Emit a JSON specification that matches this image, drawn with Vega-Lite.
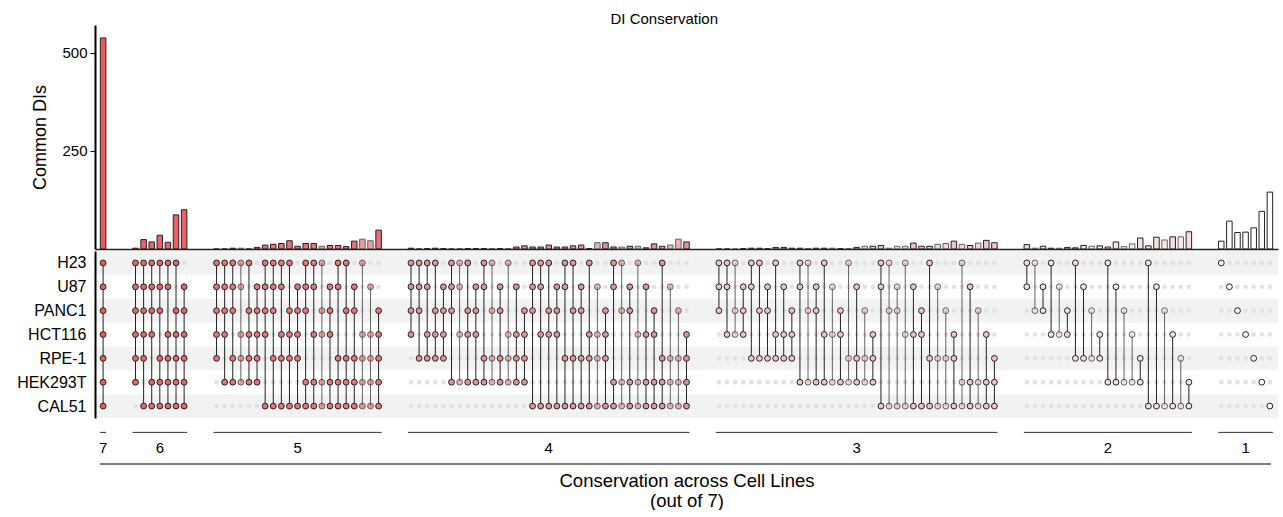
{
"$schema": "https://vega.github.io/schema/vega-lite/v6.json",
"padding": {"left": 16, "top": 12, "right": 3, "bottom": 0},
"config": {"font": "Liberation Sans", "view": {"stroke": null}, "axis": {"labelFont": "Liberation Sans", "titleFont": "Liberation Sans", "labelColor": "#000", "titleColor": "#000", "titleFontWeight": "normal", "grid": false}},
"title": {"text": "DI Conservation", "fontSize": 15, "fontWeight": "normal", "anchor": "middle", "offset": 4, "color": "#000", "dx": 11, "dy": 6},
"datasets": {
"lines": [{"line":"H23","rank":1},{"line":"U87","rank":2},{"line":"PANC1","rank":3},{"line":"HCT116","rank":4},{"line":"RPE-1","rank":5},{"line":"HEK293T","rank":6},{"line":"CAL51","rank":7}],
"groups": [
{"deg":7,"first":"m1111111","mid":"m1111111","last":"m1111111"},
{"deg":6,"first":"m1111110","mid":"m1110111","last":"m0111111"},
{"deg":5,"first":"m1111100","mid":"m0111101","last":"m0011111"},
{"deg":4,"first":"m1111000","mid":"m1011001","last":"m0001111"},
{"deg":3,"first":"m1110000","mid":"m0100110","last":"m0000111"},
{"deg":2,"first":"m1100000","mid":"m1000010","last":"m0000011"},
{"deg":1,"first":"m1000000","mid":"m0001000","last":"m0000001"}],
"combos": [
{"id":"m1111111","deg":7,"n":538,"H23":1,"U87":1,"PANC1":1,"HCT116":1,"RPE-1":1,"HEK293T":1,"CAL51":1,"faint":0},
{"id":"m1111110","deg":6,"n":2,"H23":1,"U87":1,"PANC1":1,"HCT116":1,"RPE-1":1,"HEK293T":1,"CAL51":0,"faint":0},
{"id":"m1111101","deg":6,"n":24,"H23":1,"U87":1,"PANC1":1,"HCT116":1,"RPE-1":1,"HEK293T":0,"CAL51":1,"faint":0},
{"id":"m1111011","deg":6,"n":18,"H23":1,"U87":1,"PANC1":1,"HCT116":1,"RPE-1":0,"HEK293T":1,"CAL51":1,"faint":0},
{"id":"m1110111","deg":6,"n":35,"H23":1,"U87":1,"PANC1":1,"HCT116":0,"RPE-1":1,"HEK293T":1,"CAL51":1,"faint":0},
{"id":"m1101111","deg":6,"n":17,"H23":1,"U87":1,"PANC1":0,"HCT116":1,"RPE-1":1,"HEK293T":1,"CAL51":1,"faint":0},
{"id":"m1011111","deg":6,"n":87,"H23":1,"U87":0,"PANC1":1,"HCT116":1,"RPE-1":1,"HEK293T":1,"CAL51":1,"faint":0},
{"id":"m0111111","deg":6,"n":100,"H23":0,"U87":1,"PANC1":1,"HCT116":1,"RPE-1":1,"HEK293T":1,"CAL51":1,"faint":0},
{"id":"m1111100","deg":5,"n":0,"H23":1,"U87":1,"PANC1":1,"HCT116":1,"RPE-1":1,"HEK293T":0,"CAL51":0,"faint":0},
{"id":"m1111010","deg":5,"n":0,"H23":1,"U87":1,"PANC1":1,"HCT116":1,"RPE-1":0,"HEK293T":1,"CAL51":0,"faint":0},
{"id":"m1110110","deg":5,"n":2,"H23":1,"U87":1,"PANC1":1,"HCT116":0,"RPE-1":1,"HEK293T":1,"CAL51":0,"faint":0},
{"id":"m1101110","deg":5,"n":2,"H23":1,"U87":1,"PANC1":0,"HCT116":1,"RPE-1":1,"HEK293T":1,"CAL51":0,"faint":1},
{"id":"m1011110","deg":5,"n":0,"H23":1,"U87":0,"PANC1":1,"HCT116":1,"RPE-1":1,"HEK293T":1,"CAL51":0,"faint":0},
{"id":"m0111110","deg":5,"n":4,"H23":0,"U87":1,"PANC1":1,"HCT116":1,"RPE-1":1,"HEK293T":1,"CAL51":0,"faint":0},
{"id":"m1111001","deg":5,"n":10,"H23":1,"U87":1,"PANC1":1,"HCT116":1,"RPE-1":0,"HEK293T":0,"CAL51":1,"faint":0},
{"id":"m1110101","deg":5,"n":12,"H23":1,"U87":1,"PANC1":1,"HCT116":0,"RPE-1":1,"HEK293T":0,"CAL51":1,"faint":0},
{"id":"m1101101","deg":5,"n":14,"H23":1,"U87":1,"PANC1":0,"HCT116":1,"RPE-1":1,"HEK293T":0,"CAL51":1,"faint":0},
{"id":"m1011101","deg":5,"n":21,"H23":1,"U87":0,"PANC1":1,"HCT116":1,"RPE-1":1,"HEK293T":0,"CAL51":1,"faint":0},
{"id":"m0111101","deg":5,"n":7,"H23":0,"U87":1,"PANC1":1,"HCT116":1,"RPE-1":1,"HEK293T":0,"CAL51":1,"faint":0},
{"id":"m1110011","deg":5,"n":14,"H23":1,"U87":1,"PANC1":1,"HCT116":0,"RPE-1":0,"HEK293T":1,"CAL51":1,"faint":0},
{"id":"m1101011","deg":5,"n":14,"H23":1,"U87":1,"PANC1":0,"HCT116":1,"RPE-1":0,"HEK293T":1,"CAL51":1,"faint":0},
{"id":"m1011011","deg":5,"n":7,"H23":1,"U87":0,"PANC1":1,"HCT116":1,"RPE-1":0,"HEK293T":1,"CAL51":1,"faint":1},
{"id":"m0111011","deg":5,"n":9,"H23":0,"U87":1,"PANC1":1,"HCT116":1,"RPE-1":0,"HEK293T":1,"CAL51":1,"faint":0},
{"id":"m1100111","deg":5,"n":9,"H23":1,"U87":1,"PANC1":0,"HCT116":0,"RPE-1":1,"HEK293T":1,"CAL51":1,"faint":0},
{"id":"m1010111","deg":5,"n":6,"H23":1,"U87":0,"PANC1":1,"HCT116":0,"RPE-1":1,"HEK293T":1,"CAL51":1,"faint":0},
{"id":"m0110111","deg":5,"n":20,"H23":0,"U87":1,"PANC1":1,"HCT116":0,"RPE-1":1,"HEK293T":1,"CAL51":1,"faint":0},
{"id":"m1001111","deg":5,"n":25,"H23":1,"U87":0,"PANC1":0,"HCT116":1,"RPE-1":1,"HEK293T":1,"CAL51":1,"faint":1},
{"id":"m0101111","deg":5,"n":21,"H23":0,"U87":1,"PANC1":0,"HCT116":1,"RPE-1":1,"HEK293T":1,"CAL51":1,"faint":1},
{"id":"m0011111","deg":5,"n":48,"H23":0,"U87":0,"PANC1":1,"HCT116":1,"RPE-1":1,"HEK293T":1,"CAL51":1,"faint":0},
{"id":"m1111000","deg":4,"n":2,"H23":1,"U87":1,"PANC1":1,"HCT116":1,"RPE-1":0,"HEK293T":0,"CAL51":0,"faint":0},
{"id":"m1110100","deg":4,"n":0,"H23":1,"U87":1,"PANC1":1,"HCT116":0,"RPE-1":1,"HEK293T":0,"CAL51":0,"faint":0},
{"id":"m1101100","deg":4,"n":1,"H23":1,"U87":1,"PANC1":0,"HCT116":1,"RPE-1":1,"HEK293T":0,"CAL51":0,"faint":0},
{"id":"m1011100","deg":4,"n":2,"H23":1,"U87":0,"PANC1":1,"HCT116":1,"RPE-1":1,"HEK293T":0,"CAL51":0,"faint":0},
{"id":"m0111100","deg":4,"n":1,"H23":0,"U87":1,"PANC1":1,"HCT116":1,"RPE-1":1,"HEK293T":0,"CAL51":0,"faint":0},
{"id":"m1110010","deg":4,"n":0,"H23":1,"U87":1,"PANC1":1,"HCT116":0,"RPE-1":0,"HEK293T":1,"CAL51":0,"faint":0},
{"id":"m1101010","deg":4,"n":1,"H23":1,"U87":1,"PANC1":0,"HCT116":1,"RPE-1":0,"HEK293T":1,"CAL51":0,"faint":1},
{"id":"m1011010","deg":4,"n":1,"H23":1,"U87":0,"PANC1":1,"HCT116":1,"RPE-1":0,"HEK293T":1,"CAL51":0,"faint":0},
{"id":"m0111010","deg":4,"n":1,"H23":0,"U87":1,"PANC1":1,"HCT116":1,"RPE-1":0,"HEK293T":1,"CAL51":0,"faint":0},
{"id":"m1100110","deg":4,"n":1,"H23":1,"U87":1,"PANC1":0,"HCT116":0,"RPE-1":1,"HEK293T":1,"CAL51":0,"faint":0},
{"id":"m1010110","deg":4,"n":1,"H23":1,"U87":0,"PANC1":1,"HCT116":0,"RPE-1":1,"HEK293T":1,"CAL51":0,"faint":1},
{"id":"m0110110","deg":4,"n":1,"H23":0,"U87":1,"PANC1":1,"HCT116":0,"RPE-1":1,"HEK293T":1,"CAL51":0,"faint":0},
{"id":"m1001110","deg":4,"n":1,"H23":1,"U87":0,"PANC1":0,"HCT116":1,"RPE-1":1,"HEK293T":1,"CAL51":0,"faint":1},
{"id":"m0101110","deg":4,"n":5,"H23":0,"U87":1,"PANC1":0,"HCT116":1,"RPE-1":1,"HEK293T":1,"CAL51":0,"faint":0},
{"id":"m0011110","deg":4,"n":8,"H23":0,"U87":0,"PANC1":1,"HCT116":1,"RPE-1":1,"HEK293T":1,"CAL51":0,"faint":0},
{"id":"m1110001","deg":4,"n":5,"H23":1,"U87":1,"PANC1":1,"HCT116":0,"RPE-1":0,"HEK293T":0,"CAL51":1,"faint":0},
{"id":"m1101001","deg":4,"n":5,"H23":1,"U87":1,"PANC1":0,"HCT116":1,"RPE-1":0,"HEK293T":0,"CAL51":1,"faint":0},
{"id":"m1011001","deg":4,"n":10,"H23":1,"U87":0,"PANC1":1,"HCT116":1,"RPE-1":0,"HEK293T":0,"CAL51":1,"faint":0},
{"id":"m0111001","deg":4,"n":5,"H23":0,"U87":1,"PANC1":1,"HCT116":1,"RPE-1":0,"HEK293T":0,"CAL51":1,"faint":0},
{"id":"m1100101","deg":4,"n":5,"H23":1,"U87":1,"PANC1":0,"HCT116":0,"RPE-1":1,"HEK293T":0,"CAL51":1,"faint":0},
{"id":"m1010101","deg":4,"n":8,"H23":1,"U87":0,"PANC1":1,"HCT116":0,"RPE-1":1,"HEK293T":0,"CAL51":1,"faint":0},
{"id":"m0110101","deg":4,"n":10,"H23":0,"U87":1,"PANC1":1,"HCT116":0,"RPE-1":1,"HEK293T":0,"CAL51":1,"faint":0},
{"id":"m1001101","deg":4,"n":1,"H23":1,"U87":0,"PANC1":0,"HCT116":1,"RPE-1":1,"HEK293T":0,"CAL51":1,"faint":0},
{"id":"m0101101","deg":4,"n":16,"H23":0,"U87":1,"PANC1":0,"HCT116":1,"RPE-1":1,"HEK293T":0,"CAL51":1,"faint":1},
{"id":"m0011101","deg":4,"n":16,"H23":0,"U87":0,"PANC1":1,"HCT116":1,"RPE-1":1,"HEK293T":0,"CAL51":1,"faint":0},
{"id":"m1100011","deg":4,"n":5,"H23":1,"U87":1,"PANC1":0,"HCT116":0,"RPE-1":0,"HEK293T":1,"CAL51":1,"faint":0},
{"id":"m1010011","deg":4,"n":5,"H23":1,"U87":0,"PANC1":1,"HCT116":0,"RPE-1":0,"HEK293T":1,"CAL51":1,"faint":1},
{"id":"m0110011","deg":4,"n":7,"H23":0,"U87":1,"PANC1":1,"HCT116":0,"RPE-1":0,"HEK293T":1,"CAL51":1,"faint":0},
{"id":"m1001011","deg":4,"n":7,"H23":1,"U87":0,"PANC1":0,"HCT116":1,"RPE-1":0,"HEK293T":1,"CAL51":1,"faint":1},
{"id":"m0101011","deg":4,"n":3,"H23":0,"U87":1,"PANC1":0,"HCT116":1,"RPE-1":0,"HEK293T":1,"CAL51":1,"faint":0},
{"id":"m0011011","deg":4,"n":13,"H23":0,"U87":0,"PANC1":1,"HCT116":1,"RPE-1":0,"HEK293T":1,"CAL51":1,"faint":0},
{"id":"m1000111","deg":4,"n":7,"H23":1,"U87":0,"PANC1":0,"HCT116":0,"RPE-1":1,"HEK293T":1,"CAL51":1,"faint":0},
{"id":"m0100111","deg":4,"n":10,"H23":0,"U87":1,"PANC1":0,"HCT116":0,"RPE-1":1,"HEK293T":1,"CAL51":1,"faint":1},
{"id":"m0010111","deg":4,"n":25,"H23":0,"U87":0,"PANC1":1,"HCT116":0,"RPE-1":1,"HEK293T":1,"CAL51":1,"faint":1},
{"id":"m0001111","deg":4,"n":18,"H23":0,"U87":0,"PANC1":0,"HCT116":1,"RPE-1":1,"HEK293T":1,"CAL51":1,"faint":0},
{"id":"m1110000","deg":3,"n":0,"H23":1,"U87":1,"PANC1":1,"HCT116":0,"RPE-1":0,"HEK293T":0,"CAL51":0,"faint":0},
{"id":"m1101000","deg":3,"n":0,"H23":1,"U87":1,"PANC1":0,"HCT116":1,"RPE-1":0,"HEK293T":0,"CAL51":0,"faint":0},
{"id":"m1011000","deg":3,"n":0,"H23":1,"U87":0,"PANC1":1,"HCT116":1,"RPE-1":0,"HEK293T":0,"CAL51":0,"faint":1},
{"id":"m0111000","deg":3,"n":1,"H23":0,"U87":1,"PANC1":1,"HCT116":1,"RPE-1":0,"HEK293T":0,"CAL51":0,"faint":0},
{"id":"m1100100","deg":3,"n":2,"H23":1,"U87":1,"PANC1":0,"HCT116":0,"RPE-1":1,"HEK293T":0,"CAL51":0,"faint":0},
{"id":"m1010100","deg":3,"n":2,"H23":1,"U87":0,"PANC1":1,"HCT116":0,"RPE-1":1,"HEK293T":0,"CAL51":0,"faint":0},
{"id":"m0110100","deg":3,"n":1,"H23":0,"U87":1,"PANC1":1,"HCT116":0,"RPE-1":1,"HEK293T":0,"CAL51":0,"faint":0},
{"id":"m1001100","deg":3,"n":4,"H23":1,"U87":0,"PANC1":0,"HCT116":1,"RPE-1":1,"HEK293T":0,"CAL51":0,"faint":0},
{"id":"m0101100","deg":3,"n":4,"H23":0,"U87":1,"PANC1":0,"HCT116":1,"RPE-1":1,"HEK293T":0,"CAL51":0,"faint":0},
{"id":"m0011100","deg":3,"n":2,"H23":0,"U87":0,"PANC1":1,"HCT116":1,"RPE-1":1,"HEK293T":0,"CAL51":0,"faint":0},
{"id":"m1100010","deg":3,"n":2,"H23":1,"U87":1,"PANC1":0,"HCT116":0,"RPE-1":0,"HEK293T":1,"CAL51":0,"faint":0},
{"id":"m1010010","deg":3,"n":1,"H23":1,"U87":0,"PANC1":1,"HCT116":0,"RPE-1":0,"HEK293T":1,"CAL51":0,"faint":1},
{"id":"m0110010","deg":3,"n":2,"H23":0,"U87":1,"PANC1":1,"HCT116":0,"RPE-1":0,"HEK293T":1,"CAL51":0,"faint":0},
{"id":"m1001010","deg":3,"n":2,"H23":1,"U87":0,"PANC1":0,"HCT116":1,"RPE-1":0,"HEK293T":1,"CAL51":0,"faint":0},
{"id":"m0101010","deg":3,"n":2,"H23":0,"U87":1,"PANC1":0,"HCT116":1,"RPE-1":0,"HEK293T":1,"CAL51":0,"faint":1},
{"id":"m0011010","deg":3,"n":1,"H23":0,"U87":0,"PANC1":1,"HCT116":1,"RPE-1":0,"HEK293T":1,"CAL51":0,"faint":0},
{"id":"m1000110","deg":3,"n":1,"H23":1,"U87":0,"PANC1":0,"HCT116":0,"RPE-1":1,"HEK293T":1,"CAL51":0,"faint":1},
{"id":"m0100110","deg":3,"n":4,"H23":0,"U87":1,"PANC1":0,"HCT116":0,"RPE-1":1,"HEK293T":1,"CAL51":0,"faint":0},
{"id":"m0010110","deg":3,"n":7,"H23":0,"U87":0,"PANC1":1,"HCT116":0,"RPE-1":1,"HEK293T":1,"CAL51":0,"faint":1},
{"id":"m0001110","deg":3,"n":7,"H23":0,"U87":0,"PANC1":0,"HCT116":1,"RPE-1":1,"HEK293T":1,"CAL51":0,"faint":0},
{"id":"m1100001","deg":3,"n":9,"H23":1,"U87":1,"PANC1":0,"HCT116":0,"RPE-1":0,"HEK293T":0,"CAL51":1,"faint":0},
{"id":"m1010001","deg":3,"n":2,"H23":1,"U87":0,"PANC1":1,"HCT116":0,"RPE-1":0,"HEK293T":0,"CAL51":1,"faint":1},
{"id":"m0110001","deg":3,"n":7,"H23":0,"U87":1,"PANC1":1,"HCT116":0,"RPE-1":0,"HEK293T":0,"CAL51":1,"faint":1},
{"id":"m1001001","deg":3,"n":7,"H23":1,"U87":0,"PANC1":0,"HCT116":1,"RPE-1":0,"HEK293T":0,"CAL51":1,"faint":1},
{"id":"m0101001","deg":3,"n":15,"H23":0,"U87":1,"PANC1":0,"HCT116":1,"RPE-1":0,"HEK293T":0,"CAL51":1,"faint":0},
{"id":"m0011001","deg":3,"n":7,"H23":0,"U87":0,"PANC1":1,"HCT116":1,"RPE-1":0,"HEK293T":0,"CAL51":1,"faint":0},
{"id":"m1000101","deg":3,"n":7,"H23":1,"U87":0,"PANC1":0,"HCT116":0,"RPE-1":1,"HEK293T":0,"CAL51":1,"faint":0},
{"id":"m0100101","deg":3,"n":12,"H23":0,"U87":1,"PANC1":0,"HCT116":0,"RPE-1":1,"HEK293T":0,"CAL51":1,"faint":1},
{"id":"m0010101","deg":3,"n":14,"H23":0,"U87":0,"PANC1":1,"HCT116":0,"RPE-1":1,"HEK293T":0,"CAL51":1,"faint":1},
{"id":"m0001101","deg":3,"n":20,"H23":0,"U87":0,"PANC1":0,"HCT116":1,"RPE-1":1,"HEK293T":0,"CAL51":1,"faint":0},
{"id":"m1000011","deg":3,"n":12,"H23":1,"U87":0,"PANC1":0,"HCT116":0,"RPE-1":0,"HEK293T":1,"CAL51":1,"faint":1},
{"id":"m0100011","deg":3,"n":9,"H23":0,"U87":1,"PANC1":0,"HCT116":0,"RPE-1":0,"HEK293T":1,"CAL51":1,"faint":0},
{"id":"m0010011","deg":3,"n":15,"H23":0,"U87":0,"PANC1":1,"HCT116":0,"RPE-1":0,"HEK293T":1,"CAL51":1,"faint":1},
{"id":"m0001011","deg":3,"n":22,"H23":0,"U87":0,"PANC1":0,"HCT116":1,"RPE-1":0,"HEK293T":1,"CAL51":1,"faint":0},
{"id":"m0000111","deg":3,"n":16,"H23":0,"U87":0,"PANC1":0,"HCT116":0,"RPE-1":1,"HEK293T":1,"CAL51":1,"faint":0},
{"id":"m1100000","deg":2,"n":11,"H23":1,"U87":1,"PANC1":0,"HCT116":0,"RPE-1":0,"HEK293T":0,"CAL51":0,"faint":0},
{"id":"m1010000","deg":2,"n":2,"H23":1,"U87":0,"PANC1":1,"HCT116":0,"RPE-1":0,"HEK293T":0,"CAL51":0,"faint":1},
{"id":"m0110000","deg":2,"n":7,"H23":0,"U87":1,"PANC1":1,"HCT116":0,"RPE-1":0,"HEK293T":0,"CAL51":0,"faint":0},
{"id":"m1001000","deg":2,"n":2,"H23":1,"U87":0,"PANC1":0,"HCT116":1,"RPE-1":0,"HEK293T":0,"CAL51":0,"faint":0},
{"id":"m0101000","deg":2,"n":2,"H23":0,"U87":1,"PANC1":0,"HCT116":1,"RPE-1":0,"HEK293T":0,"CAL51":0,"faint":1},
{"id":"m0011000","deg":2,"n":4,"H23":0,"U87":0,"PANC1":1,"HCT116":1,"RPE-1":0,"HEK293T":0,"CAL51":0,"faint":0},
{"id":"m1000100","deg":2,"n":3,"H23":1,"U87":0,"PANC1":0,"HCT116":0,"RPE-1":1,"HEK293T":0,"CAL51":0,"faint":0},
{"id":"m0100100","deg":2,"n":9,"H23":0,"U87":1,"PANC1":0,"HCT116":0,"RPE-1":1,"HEK293T":0,"CAL51":0,"faint":0},
{"id":"m0010100","deg":2,"n":7,"H23":0,"U87":0,"PANC1":1,"HCT116":0,"RPE-1":1,"HEK293T":0,"CAL51":0,"faint":1},
{"id":"m0001100","deg":2,"n":8,"H23":0,"U87":0,"PANC1":0,"HCT116":1,"RPE-1":1,"HEK293T":0,"CAL51":0,"faint":0},
{"id":"m1000010","deg":2,"n":5,"H23":1,"U87":0,"PANC1":0,"HCT116":0,"RPE-1":0,"HEK293T":1,"CAL51":0,"faint":0},
{"id":"m0100010","deg":2,"n":18,"H23":0,"U87":1,"PANC1":0,"HCT116":0,"RPE-1":0,"HEK293T":1,"CAL51":0,"faint":0},
{"id":"m0010010","deg":2,"n":6,"H23":0,"U87":0,"PANC1":1,"HCT116":0,"RPE-1":0,"HEK293T":1,"CAL51":0,"faint":1},
{"id":"m0001010","deg":2,"n":13,"H23":0,"U87":0,"PANC1":0,"HCT116":1,"RPE-1":0,"HEK293T":1,"CAL51":0,"faint":1},
{"id":"m0000110","deg":2,"n":28,"H23":0,"U87":0,"PANC1":0,"HCT116":0,"RPE-1":1,"HEK293T":1,"CAL51":0,"faint":0},
{"id":"m1000001","deg":2,"n":8,"H23":1,"U87":0,"PANC1":0,"HCT116":0,"RPE-1":0,"HEK293T":0,"CAL51":1,"faint":0},
{"id":"m0100001","deg":2,"n":30,"H23":0,"U87":1,"PANC1":0,"HCT116":0,"RPE-1":0,"HEK293T":0,"CAL51":1,"faint":0},
{"id":"m0010001","deg":2,"n":23,"H23":0,"U87":0,"PANC1":1,"HCT116":0,"RPE-1":0,"HEK293T":0,"CAL51":1,"faint":1},
{"id":"m0001001","deg":2,"n":31,"H23":0,"U87":0,"PANC1":0,"HCT116":1,"RPE-1":0,"HEK293T":0,"CAL51":1,"faint":0},
{"id":"m0000101","deg":2,"n":31,"H23":0,"U87":0,"PANC1":0,"HCT116":0,"RPE-1":1,"HEK293T":0,"CAL51":1,"faint":1},
{"id":"m0000011","deg":2,"n":44,"H23":0,"U87":0,"PANC1":0,"HCT116":0,"RPE-1":0,"HEK293T":1,"CAL51":1,"faint":0},
{"id":"m1000000","deg":1,"n":20,"H23":1,"U87":0,"PANC1":0,"HCT116":0,"RPE-1":0,"HEK293T":0,"CAL51":0,"faint":0},
{"id":"m0100000","deg":1,"n":71,"H23":0,"U87":1,"PANC1":0,"HCT116":0,"RPE-1":0,"HEK293T":0,"CAL51":0,"faint":0},
{"id":"m0010000","deg":1,"n":42,"H23":0,"U87":0,"PANC1":1,"HCT116":0,"RPE-1":0,"HEK293T":0,"CAL51":0,"faint":0},
{"id":"m0001000","deg":1,"n":43,"H23":0,"U87":0,"PANC1":0,"HCT116":1,"RPE-1":0,"HEK293T":0,"CAL51":0,"faint":0},
{"id":"m0000100","deg":1,"n":54,"H23":0,"U87":0,"PANC1":0,"HCT116":0,"RPE-1":1,"HEK293T":0,"CAL51":0,"faint":0},
{"id":"m0000010","deg":1,"n":96,"H23":0,"U87":0,"PANC1":0,"HCT116":0,"RPE-1":0,"HEK293T":1,"CAL51":0,"faint":0},
{"id":"m0000001","deg":1,"n":145,"H23":0,"U87":0,"PANC1":0,"HCT116":0,"RPE-1":0,"HEK293T":0,"CAL51":1,"faint":0}
]},
"spacing": 0,
"resolve": {"scale": {"x": "shared"}},
"vconcat": [
{
"width": 1183, "height": 224,
"data": {"name": "combos"},
"mark": {"type": "bar", "width": 5.5, "stroke": "#222", "strokeWidth": 1},
"encoding": {
"x": {"field": "id", "type": "ordinal", "scale": {"type": "point", "padding": 1, "domain": ["m1111111","s1","s2","s3","m1111110","m1111101","m1111011","m1110111","m1101111","m1011111","m0111111","s4","s5","s6","m1111100","m1111010","m1110110","m1101110","m1011110","m0111110","m1111001","m1110101","m1101101","m1011101","m0111101","m1110011","m1101011","m1011011","m0111011","m1100111","m1010111","m0110111","m1001111","m0101111","m0011111","s7","s8","s9","m1111000","m1110100","m1101100","m1011100","m0111100","m1110010","m1101010","m1011010","m0111010","m1100110","m1010110","m0110110","m1001110","m0101110","m0011110","m1110001","m1101001","m1011001","m0111001","m1100101","m1010101","m0110101","m1001101","m0101101","m0011101","m1100011","m1010011","m0110011","m1001011","m0101011","m0011011","m1000111","m0100111","m0010111","m0001111","s10","s11","s12","m1110000","m1101000","m1011000","m0111000","m1100100","m1010100","m0110100","m1001100","m0101100","m0011100","m1100010","m1010010","m0110010","m1001010","m0101010","m0011010","m1000110","m0100110","m0010110","m0001110","m1100001","m1010001","m0110001","m1001001","m0101001","m0011001","m1000101","m0100101","m0010101","m0001101","m1000011","m0100011","m0010011","m0001011","m0000111","s13","s14","s15","m1100000","m1010000","m0110000","m1001000","m0101000","m0011000","m1000100","m0100100","m0010100","m0001100","m1000010","m0100010","m0010010","m0001010","m0000110","m1000001","m0100001","m0010001","m0001001","m0000101","m0000011","s16","s17","s18","m1000000","m0100000","m0010000","m0001000","m0000100","m0000010","m0000001"]}, "axis": {"labels": false, "ticks": false, "title": null, "domainColor": "#222", "domainWidth": 1.5, "zindex": 1}},
"y": {"field": "n", "type": "quantitative", "scale": {"domain": [0, 571]}, "axis": {"values": [250, 500], "title": "Common DIs", "titleFontSize": 18, "labelFontSize": 15, "tickSize": 5, "tickColor": "#000", "domainColor": "#000", "domainWidth": 2, "labelPadding": 3, "titlePadding": 12, "zindex": 1}},
"fill": {"field": "deg", "type": "ordinal", "scale": {"domain": [7,6,5,4,3,2,1], "range": ["#ee5a5a","#ea6368","#e8737a","#e3929b","#f2c2ca","#f8dde2","#ffffff"]}, "legend": null},
"opacity": {"field": "faint", "type": "nominal", "scale": {"domain": [0,1], "range": [1, 0.7]}, "legend": null}
}
},
{
"width": 1183, "height": 167,
"layer": [
{
"data": {"name": "lines"},
"transform": [{"filter": "datum.rank % 2 == 1"}],
"mark": {"type": "rule", "strokeWidth": 23.86, "color": "#f2f2f2"},
"encoding": {"y": {"field": "line", "type": "nominal", "scale": {"type": "point", "padding": 0.5, "domain": ["H23","U87","PANC1","HCT116","RPE-1","HEK293T","CAL51"]}, "axis": {"title": null, "ticks": false, "labelFontSize": 16, "labelPadding": 9, "domainColor": "#000", "domainWidth": 2, "zindex": 1}}}
},
{
"data": {"name": "combos"},
"transform": [{"fold": ["H23","U87","PANC1","HCT116","RPE-1","HEK293T","CAL51"], "as": ["line","member"]}],
"encoding": {
"x": {"field": "id", "type": "ordinal", "scale": {"type": "point", "padding": 1, "domain": ["m1111111","s1","s2","s3","m1111110","m1111101","m1111011","m1110111","m1101111","m1011111","m0111111","s4","s5","s6","m1111100","m1111010","m1110110","m1101110","m1011110","m0111110","m1111001","m1110101","m1101101","m1011101","m0111101","m1110011","m1101011","m1011011","m0111011","m1100111","m1010111","m0110111","m1001111","m0101111","m0011111","s7","s8","s9","m1111000","m1110100","m1101100","m1011100","m0111100","m1110010","m1101010","m1011010","m0111010","m1100110","m1010110","m0110110","m1001110","m0101110","m0011110","m1110001","m1101001","m1011001","m0111001","m1100101","m1010101","m0110101","m1001101","m0101101","m0011101","m1100011","m1010011","m0110011","m1001011","m0101011","m0011011","m1000111","m0100111","m0010111","m0001111","s10","s11","s12","m1110000","m1101000","m1011000","m0111000","m1100100","m1010100","m0110100","m1001100","m0101100","m0011100","m1100010","m1010010","m0110010","m1001010","m0101010","m0011010","m1000110","m0100110","m0010110","m0001110","m1100001","m1010001","m0110001","m1001001","m0101001","m0011001","m1000101","m0100101","m0010101","m0001101","m1000011","m0100011","m0010011","m0001011","m0000111","s13","s14","s15","m1100000","m1010000","m0110000","m1001000","m0101000","m0011000","m1000100","m0100100","m0010100","m0001100","m1000010","m0100010","m0010010","m0001010","m0000110","m1000001","m0100001","m0010001","m0001001","m0000101","m0000011","s16","s17","s18","m1000000","m0100000","m0010000","m0001000","m0000100","m0000010","m0000001"]}, "axis": null},
"y": {"field": "line", "type": "nominal", "scale": {"type": "point", "padding": 0.5, "domain": ["H23","U87","PANC1","HCT116","RPE-1","HEK293T","CAL51"]}, "axis": {"title": null, "ticks": false, "labelFontSize": 16, "labelPadding": 9, "domainColor": "#000", "domainWidth": 2, "zindex": 1}}
},
"layer": [
{"transform": [{"filter": "datum.member == 0"}], "mark": {"type": "circle", "size": 22, "color": "#e2e2e2", "opacity": 1}},
{"transform": [{"filter": "datum.member == 1"}], "mark": {"type": "line", "color": "#222", "strokeWidth": 1}, "encoding": {"detail": {"field": "id"}, "opacity": {"field": "faint", "type": "nominal", "scale": {"domain": [0,1], "range": [1, 0.7]}, "legend": null}}},
{"transform": [{"filter": "datum.member == 1"}], "mark": {"type": "circle", "size": 34, "stroke": "#222", "strokeWidth": 1, "opacity": 1}, "encoding": {"fill": {"field": "deg", "type": "ordinal", "scale": {"domain": [7,6,5,4,3,2,1], "range": ["#ee5a5a","#ea6368","#e8737a","#e3929b","#f2c2ca","#f8dde2","#ffffff"]}, "legend": null}, "opacity": {"field": "faint", "type": "nominal", "scale": {"domain": [0,1], "range": [1, 0.7]}, "legend": null}}}
]
}
]
},
{
"width": 1183, "height": 52,
"data": {"name": "groups"},
"layer": [
{
"mark": {"type": "rule", "color": "#333", "strokeWidth": 1, "xOffset": -3, "x2Offset": 3},
"encoding": {
"x": {"field": "first", "type": "ordinal", "scale": {"type": "point", "padding": 1, "domain": ["m1111111","s1","s2","s3","m1111110","m1111101","m1111011","m1110111","m1101111","m1011111","m0111111","s4","s5","s6","m1111100","m1111010","m1110110","m1101110","m1011110","m0111110","m1111001","m1110101","m1101101","m1011101","m0111101","m1110011","m1101011","m1011011","m0111011","m1100111","m1010111","m0110111","m1001111","m0101111","m0011111","s7","s8","s9","m1111000","m1110100","m1101100","m1011100","m0111100","m1110010","m1101010","m1011010","m0111010","m1100110","m1010110","m0110110","m1001110","m0101110","m0011110","m1110001","m1101001","m1011001","m0111001","m1100101","m1010101","m0110101","m1001101","m0101101","m0011101","m1100011","m1010011","m0110011","m1001011","m0101011","m0011011","m1000111","m0100111","m0010111","m0001111","s10","s11","s12","m1110000","m1101000","m1011000","m0111000","m1100100","m1010100","m0110100","m1001100","m0101100","m0011100","m1100010","m1010010","m0110010","m1001010","m0101010","m0011010","m1000110","m0100110","m0010110","m0001110","m1100001","m1010001","m0110001","m1001001","m0101001","m0011001","m1000101","m0100101","m0010101","m0001101","m1000011","m0100011","m0010011","m0001011","m0000111","s13","s14","s15","m1100000","m1010000","m0110000","m1001000","m0101000","m0011000","m1000100","m0100100","m0010100","m0001100","m1000010","m0100010","m0010010","m0001010","m0000110","m1000001","m0100001","m0010001","m0001001","m0000101","m0000011","s16","s17","s18","m1000000","m0100000","m0010000","m0001000","m0000100","m0000010","m0000001"]}, "axis": {"domain": false, "ticks": false, "labels": false, "title": ["Conservation across Cell Lines", "(out of 7)"], "titleFontSize": 18.5, "titlePadding": 0, "titleLineHeight": 20}},
"x2": {"field": "last"},
"y": {"datum": "bracket", "type": "ordinal", "scale": {"type": "point", "domain": ["bracket","label","line"], "padding": 0.64, "align": 0.66}, "axis": null}
}
},
{
"mark": {"type": "text", "fontSize": 15, "color": "#000"},
"encoding": {
"x": {"field": "mid", "type": "ordinal"},
"y": {"datum": "label", "type": "ordinal"},
"text": {"field": "deg", "type": "nominal"}
}
},
{
"transform": [{"filter": "datum.deg == 7"}],
"mark": {"type": "rule", "color": "#555", "strokeWidth": 1.5, "xOffset": -3, "x2Offset": 1},
"encoding": {
"x": {"datum": "m1111111", "type": "ordinal"},
"x2": {"datum": "m0000001"},
"y": {"datum": "line", "type": "ordinal"}
}
}
]
}
]
}
